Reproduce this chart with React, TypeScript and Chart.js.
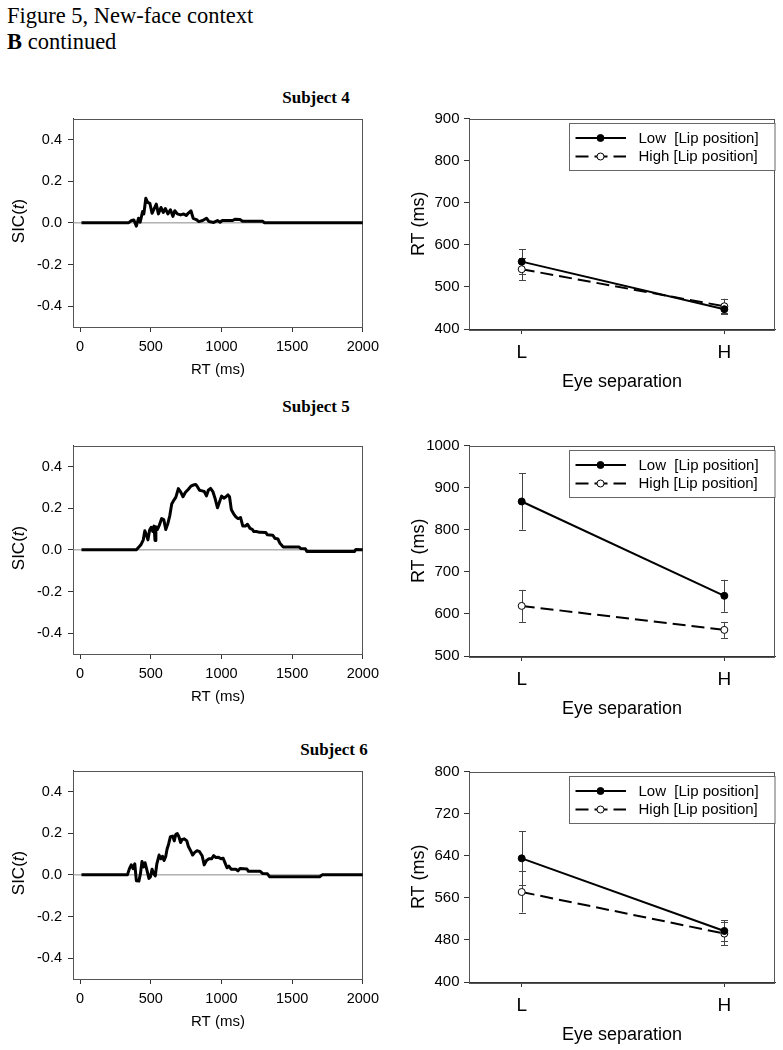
import React, { useEffect, useRef } from "react";
import { Chart, registerables } from "chart.js";
Chart.register(...registerables);

const SANS = '"Liberation Sans", Arial, sans-serif';
const SERIF = '"Liberation Serif", "Times New Roman", serif';

// ---------- SIC(t) data ----------
const sicXTicks = [0, 500, 1000, 1500, 2000];
const sicYTicks = [-0.4, -0.2, 0, 0.2, 0.4];

const sic4Time = [10, 342, 364, 380, 398, 413, 425, 442, 451, 465, 478, 494, 509, 525, 539, 554, 572, 588, 603, 621, 639, 657, 670, 688, 711, 733, 751, 766, 784, 800, 822, 840, 867, 894, 912, 945, 972, 990, 1006, 1079, 1095, 1131, 1149, 1292, 1303, 2000];
const sic4Value = [0, 0, 0.011, 0.014, -0.016, 0.022, 0.003, 0.054, 0.043, 0.118, 0.098, 0.093, 0.046, 0.069, 0.09, 0.043, 0.074, 0.05, 0.069, 0.043, 0.063, 0.031, 0.058, 0.043, 0.038, 0.043, 0.035, 0.047, 0.058, 0.022, 0.016, 0.006, 0.011, 0.022, 0.006, 0.002, 0.011, 0.003, 0.011, 0.011, 0.017, 0.016, 0.008, 0.008, 0, 0];

const sic5Time = [10, 398, 416, 431, 447, 458, 469, 480, 492, 503, 514, 523, 530, 536, 547, 561, 577, 592, 606, 621, 635, 648, 661, 677, 695, 711, 728, 744, 766, 784, 800, 818, 831, 845, 863, 878, 894, 907, 923, 939, 956, 972, 985, 1001, 1017, 1032, 1046, 1057, 1070, 1086, 1102, 1117, 1135, 1151, 1169, 1184, 1202, 1218, 1229, 1247, 1269, 1314, 1325, 1363, 1377, 1399, 1415, 1437, 1549, 1560, 1593, 1604, 1940, 1951, 2000];
const sic5Value = [0, 0, 0.014, 0.025, 0.048, 0.092, 0.072, 0.048, 0.095, 0.108, 0.088, 0.114, 0.045, 0.111, 0.098, 0.119, 0.15, 0.145, 0.098, 0.127, 0.166, 0.22, 0.236, 0.252, 0.294, 0.278, 0.255, 0.275, 0.291, 0.306, 0.311, 0.314, 0.302, 0.286, 0.283, 0.28, 0.259, 0.286, 0.295, 0.28, 0.244, 0.202, 0.228, 0.258, 0.248, 0.255, 0.264, 0.255, 0.192, 0.173, 0.158, 0.15, 0.155, 0.114, 0.114, 0.123, 0.103, 0.098, 0.088, 0.088, 0.084, 0.083, 0.072, 0.07, 0.056, 0.052, 0.03, 0.014, 0.014, 0.006, 0.005, -0.008, -0.008, 0.002, 0];

const sic6Time = [10, 335, 349, 362, 375, 387, 398, 416, 427, 438, 449, 460, 476, 487, 498, 509, 521, 532, 543, 559, 572, 583, 594, 606, 615, 626, 639, 655, 666, 677, 688, 699, 711, 722, 737, 755, 766, 782, 796, 811, 827, 845, 863, 878, 894, 912, 930, 945, 961, 979, 997, 1012, 1023, 1039, 1052, 1068, 1102, 1117, 1131, 1180, 1191, 1274, 1292, 1325, 1341, 1694, 1712, 2000];
const sic6Value = [0, 0, 0.03, 0.048, 0.03, 0.053, -0.028, -0.03, 0.006, 0.064, 0.038, 0.058, 0.014, -0.017, -0.009, 0.027, 0.006, -0.005, 0.053, 0.095, 0.077, 0.089, 0.069, 0.089, 0.123, 0.147, 0.183, 0.186, 0.163, 0.194, 0.198, 0.183, 0.155, 0.17, 0.173, 0.163, 0.136, 0.116, 0.095, 0.108, 0.116, 0.111, 0.092, 0.048, 0.069, 0.077, 0.077, 0.092, 0.083, 0.084, 0.077, 0.08, 0.061, 0.034, 0.042, 0.027, 0.027, 0.019, 0.03, 0.028, 0.017, 0.017, 0.006, 0.005, -0.009, -0.009, 0, 0];

// ---------- RT interaction data ----------
const eyeCategories = ["L", "H"];
const legendLabels = ["Low  [Lip position]", "High [Lip position]"];

const rt4Low = [560, 447];
const rt4LowErr = [29, 9];
const rt4High = [542, 454];
const rt4HighErr = [26, 18];
const rt4Ticks = [400, 500, 600, 700, 800, 900];

const rt5Low = [867, 643];
const rt5LowErr = [67, 38];
const rt5High = [619, 562];
const rt5HighErr = [38, 19];
const rt5Ticks = [500, 600, 700, 800, 900, 1000];

const rt6Low = [635, 497];
const rt6LowErr = [51, 20];
const rt6High = [571, 492];
const rt6HighErr = [39, 22];
const rt6Ticks = [400, 480, 560, 640, 720, 800];

const AXIS = "#333";

const framePlugin = {
  id: "frame",
  beforeDatasetsDraw(chart: any) {
    const { ctx, chartArea: a } = chart;
    ctx.save();
    ctx.strokeStyle = "#555";
    ctx.lineWidth = 1;
    ctx.strokeRect(Math.round(a.left) + 0.5, Math.round(a.top) + 0.5, Math.round(a.right - a.left) - 1, Math.round(a.bottom - a.top));
    ctx.restore();
  },
};

function SicChart({ time, value, top }: { time: number[]; value: number[]; top: number }) {
  const ref = useRef<HTMLCanvasElement>(null);
  useEffect(() => {
    const pts = time.map((t, i) => ({ x: t, y: value[i] }));
    const chart = new Chart(ref.current as HTMLCanvasElement, {
      type: "line",
      data: {
        datasets: [
          { data: pts, borderColor: "#000", borderWidth: 3, pointRadius: 0, tension: 0, borderJoinStyle: "round", order: 0 },
          { data: [{ x: -50, y: 0 }, { x: 2000, y: 0 }], borderColor: "#8a8a8a", borderWidth: 1, pointRadius: 0, order: 1 },
        ],
      } as any,
      options: {
        responsive: false,
        animation: false,
        events: [],
        layout: { padding: { top: 10, right: 6, left: 0, bottom: 0 } },
        plugins: { legend: { display: false }, tooltip: { enabled: false } },
        scales: {
          x: {
            type: "linear",
            min: -50,
            max: 2000,
            afterBuildTicks: (s: any) => { s.ticks = sicXTicks.map((v) => ({ value: v })); },
            afterFit: (s: any) => { s.height = 52; },
            grid: { display: true, drawOnChartArea: false, drawTicks: true, tickLength: 5, color: AXIS },
            border: { display: true, color: AXIS, width: 1 },
            ticks: { padding: 6, font: { family: SANS, size: 14.5 }, color: "#000", maxRotation: 0, autoSkip: false,
              callback: (v: any) => String(v) },
            title: { display: true, text: "RT (ms)", font: { family: SANS, size: 15 }, color: "#000", padding: 0 },
          },
          y: {
            type: "linear",
            min: -0.5,
            max: 0.5,
            afterBuildTicks: (s: any) => { s.ticks = sicYTicks.map((v) => ({ value: v })); },
            afterFit: (s: any) => { s.width = 73; },
            grid: { display: true, drawOnChartArea: false, drawTicks: true, tickLength: 5, color: AXIS },
            border: { display: true, color: AXIS, width: 1 },
            ticks: { padding: 6, font: { family: SANS, size: 14.5 }, color: "#000", callback: (v: any) => Number(v).toFixed(1) },
          },
        },
      } as any,
      plugins: [framePlugin],
    });
    return () => chart.destroy();
  }, []);
  return (
    <canvas ref={ref} width={385} height={275} style={{ position: "absolute", left: 0, top: top - 10 }} />
  );
}

function RtChart(props: {
  low: number[]; lowErr: number[]; high: number[]; highErr: number[]; ticks: number[]; top: number;
}) {
  const ref = useRef<HTMLCanvasElement>(null);
  const { low, lowErr, high, highErr, ticks, top } = props;
  useEffect(() => {
    const errs = [lowErr, highErr];
    const errorPlugin = {
      id: "errbars",
      beforeDatasetsDraw(chart: any) {
        const { ctx } = chart;
        const xs = chart.scales.x, ys = chart.scales.y;
        ctx.save();
        ctx.strokeStyle = "#444";
        ctx.lineWidth = 1;
        chart.data.datasets.forEach((ds: any, i: number) => {
          ds.data.forEach((p: any, j: number) => {
            const e = errs[i][j];
            const x = Math.round(xs.getPixelForValue(p.x)) + 0.5;
            const y1 = ys.getPixelForValue(p.y + e);
            const y2 = ys.getPixelForValue(p.y - e);
            ctx.beginPath();
            ctx.moveTo(x, y1); ctx.lineTo(x, y2);
            ctx.moveTo(x - 3.5, Math.round(y1) + 0.5); ctx.lineTo(x + 3.5, Math.round(y1) + 0.5);
            ctx.moveTo(x - 3.5, Math.round(y2) + 0.5); ctx.lineTo(x + 3.5, Math.round(y2) + 0.5);
            ctx.stroke();
          });
        });
        ctx.restore();
      },
    };
    const legendPlugin = {
      id: "customLegend",
      afterDraw(chart: any) {
        const { ctx, chartArea: a } = chart;
        const bx = Math.round(a.left + 100) + 0.5;
        const by = Math.round(a.top + 4) + 0.5;
        const bw = Math.round(a.right) - bx;
        const bh = 47;
        ctx.save();
        ctx.fillStyle = "#fff";
        ctx.fillRect(bx, by, bw, bh);
        ctx.strokeStyle = "#666";
        ctx.lineWidth = 1;
        ctx.strokeRect(bx, by, bw, bh);
        chart.data.datasets.forEach((ds: any, i: number) => {
          const y = a.top + 19.5 + i * 18.5;
          const x0 = a.left + 106.5;
          const x1 = a.left + 157;
          const xm = a.left + 131.5;
          ctx.beginPath();
          ctx.setLineDash(ds.borderDash || []);
          ctx.strokeStyle = "#000";
          ctx.lineWidth = ds.borderWidth;
          ctx.moveTo(x0, y); ctx.lineTo(x1, y);
          ctx.stroke();
          ctx.setLineDash([]);
          ctx.beginPath();
          ctx.arc(xm, y, 3.5, 0, Math.PI * 2);
          ctx.fillStyle = ds.pointBackgroundColor;
          ctx.fill();
          ctx.lineWidth = 1;
          ctx.strokeStyle = "#000";
          ctx.stroke();
          ctx.fillStyle = "#000";
          ctx.font = `15px ${SANS}`;
          ctx.textBaseline = "middle";
          ctx.textAlign = "left";
          ctx.fillText(legendLabels[i], a.left + 169.5, y + 0.5);
        });
        ctx.restore();
      },
    };
    const chart = new Chart(ref.current as HTMLCanvasElement, {
      type: "line",
      data: {
        datasets: [
          {
            label: legendLabels[0],
            data: low.map((v, i) => ({ x: i + 1, y: v })),
            borderColor: "#000", borderWidth: 2, pointRadius: 3.5,
            pointBackgroundColor: "#000", pointBorderColor: "#000", pointBorderWidth: 1,
          },
          {
            label: legendLabels[1],
            data: high.map((v, i) => ({ x: i + 1, y: v })),
            borderColor: "#000", borderWidth: 2, borderDash: [13, 6], pointRadius: 3.5,
            pointBackgroundColor: "#fff", pointBorderColor: "#000", pointBorderWidth: 1,
          },
        ],
      } as any,
      options: {
        responsive: false,
        animation: false,
        events: [],
        layout: { padding: { top: 10, right: 4, left: 0, bottom: 0 } },
        plugins: { legend: { display: false }, tooltip: { enabled: false } },
        scales: {
          x: {
            type: "linear",
            min: 0.74,
            max: 2.25,
            afterBuildTicks: (s: any) => { s.ticks = eyeCategories.map((_, i) => ({ value: i + 1 })); },
            afterFit: (s: any) => { s.height = 64; },
            grid: { display: true, drawOnChartArea: false, drawTicks: true, tickLength: 5, color: AXIS },
            border: { display: true, color: AXIS, width: 1 },
            ticks: { padding: 7.5, font: { family: SANS, size: 19 }, color: "#000", maxRotation: 0, autoSkip: false,
              callback: (_v: any, i: number) => eyeCategories[i] },
            title: { display: true, text: "Eye separation", font: { family: SANS, size: 18 }, color: "#000", padding: 0 },
          },
          y: {
            type: "linear",
            min: ticks[0],
            max: ticks[ticks.length - 1],
            afterBuildTicks: (s: any) => { s.ticks = ticks.map((v) => ({ value: v })); },
            afterFit: (s: any) => { s.width = 74; },
            grid: { display: true, drawOnChartArea: false, drawTicks: true, tickLength: 5, color: AXIS },
            border: { display: true, color: AXIS, width: 1 },
            ticks: { padding: 4.5, font: { family: SANS, size: 15 }, color: "#000", callback: (v: any) => String(v) },
            title: { display: true, text: "RT (ms)", font: { family: SANS, size: 18 }, color: "#000", padding: { top: 13, bottom: 0 } },
          },
        },
      } as any,
      plugins: [framePlugin, errorPlugin, legendPlugin],
    });
    return () => chart.destroy();
  }, []);
  return (
    <canvas ref={ref} width={385} height={288} style={{ position: "absolute", left: 395, top: top - 10 }} />
  );
}

function SicLabel({ cy }: { cy: number }) {
  return (
    <div style={{
      position: "absolute", left: 19, top: cy, transform: "translate(-50%, -50%) rotate(-90deg)",
      fontFamily: SANS, fontSize: 17, whiteSpace: "nowrap", lineHeight: "20px", color: "#000",
    }}>
      SIC(<i>t</i>)
    </div>
  );
}

function SubjectTitle({ text, cx, baseline }: { text: string; cx: number; baseline: number }) {
  return (
    <div style={{
      position: "absolute", left: cx, top: baseline - 14.2, transform: "translateX(-50%)",
      fontFamily: SERIF, fontWeight: "bold", fontSize: 17, lineHeight: "17px", whiteSpace: "nowrap", color: "#000",
    }}>
      {text}
    </div>
  );
}

const sicTops = [114, 441, 766];
const rtTops = [115, 442, 768];

export default function App() {
  return (
    <div style={{ position: "absolute", left: 0, top: 0, width: 783, height: 1050, background: "#fff", overflow: "hidden" }}>
      <div style={{ position: "absolute", left: 7, top: 3.4, fontFamily: SERIF, fontSize: 22.5, lineHeight: "26px", color: "#000", whiteSpace: "nowrap" }}>
        <div>Figure 5, New-face context</div>
        <div><b>B</b> continued</div>
      </div>

      <SubjectTitle text="Subject 4" cx={316} baseline={103.5} />
      <SubjectTitle text="Subject 5" cx={316} baseline={412} />
      <SubjectTitle text="Subject 6" cx={334} baseline={755} />

      <SicChart time={sic4Time} value={sic4Value} top={sicTops[0]} />
      <SicChart time={sic5Time} value={sic5Value} top={sicTops[1]} />
      <SicChart time={sic6Time} value={sic6Value} top={sicTops[2]} />

      <SicLabel cy={sicTops[0] + 106.5} />
      <SicLabel cy={sicTops[1] + 106.5} />
      <SicLabel cy={sicTops[2] + 106.5} />

      <RtChart low={rt4Low} lowErr={rt4LowErr} high={rt4High} highErr={rt4HighErr} ticks={rt4Ticks} top={rtTops[0]} />
      <RtChart low={rt5Low} lowErr={rt5LowErr} high={rt5High} highErr={rt5HighErr} ticks={rt5Ticks} top={rtTops[1]} />
      <RtChart low={rt6Low} lowErr={rt6LowErr} high={rt6High} highErr={rt6HighErr} ticks={rt6Ticks} top={rtTops[2]} />
    </div>
  );
}
